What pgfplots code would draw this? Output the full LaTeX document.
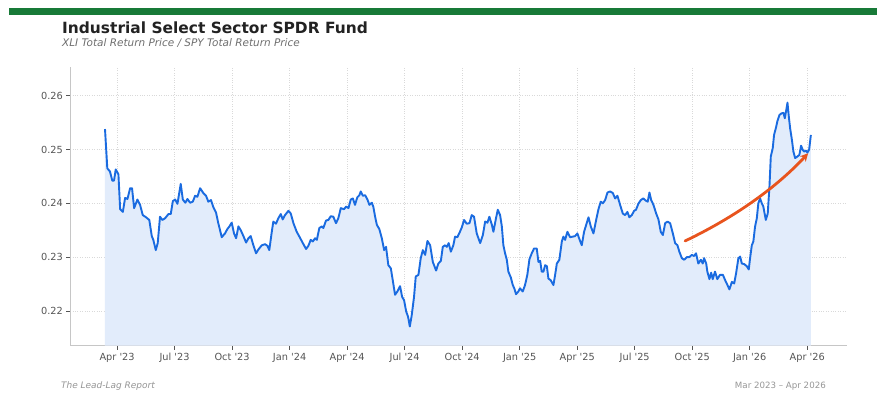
\documentclass[border=0pt]{standalone}
\usepackage{pgfplots}
\pgfplotsset{compat=1.18}
\usepackage{pgfplotstable}
\usetikzlibrary{arrows.meta}
\usepackage{fontspec}
\setmainfont{DejaVu Sans}
\definecolor{barGreen}{RGB}{24,122,56}
\definecolor{lineBlue}{RGB}{26,107,224}
\definecolor{fillBlue}{RGB}{226,236,251}
\definecolor{arrowOrange}{RGB}{232,84,30}
\definecolor{tickGray}{RGB}{85,85,85}
\definecolor{footGray}{RGB}{150,150,150}
\definecolor{titleGray}{RGB}{34,34,34}
\definecolor{subGray}{RGB}{110,110,110}

\pgfplotstableread{
m v
2.37 0.2538
2.49 0.2465
2.63 0.2459
2.75 0.2442
2.84 0.2442
2.93 0.2463
3.07 0.2454
3.16 0.2389
3.30 0.2384
3.42 0.2410
3.54 0.2408
3.68 0.2428
3.78 0.2428
3.89 0.2391
4.06 0.2407
4.20 0.2397
4.34 0.2378
4.51 0.2374
4.68 0.2369
4.81 0.2339
4.89 0.2332
5.02 0.2313
5.12 0.2326
5.24 0.2375
5.36 0.2369
5.50 0.2372
5.68 0.2380
5.80 0.2380
5.91 0.2404
6.03 0.2407
6.15 0.2399
6.32 0.2436
6.43 0.2407
6.56 0.2401
6.67 0.2408
6.81 0.2401
6.95 0.2403
7.07 0.2414
7.19 0.2412
7.33 0.2428
7.50 0.2419
7.64 0.2414
7.76 0.2403
7.90 0.2406
8.02 0.2393
8.16 0.2383
8.28 0.2363
8.46 0.2337
8.63 0.2344
8.75 0.2352
8.86 0.2357
8.98 0.2364
9.10 0.2344
9.21 0.2335
9.33 0.2357
9.45 0.2350
9.59 0.2339
9.73 0.2327
9.85 0.2335
9.97 0.2339
10.11 0.2322
10.25 0.2307
10.37 0.2314
10.55 0.2322
10.72 0.2324
10.84 0.2321
10.94 0.2313
11.07 0.2347
11.15 0.2366
11.29 0.2362
11.41 0.2372
11.54 0.2380
11.64 0.2370
11.76 0.2378
11.94 0.2386
12.06 0.2381
12.20 0.2363
12.37 0.2347
12.51 0.2338
12.63 0.2330
12.75 0.2322
12.86 0.2315
12.98 0.2321
13.10 0.2332
13.21 0.2329
13.33 0.2335
13.42 0.2332
13.55 0.2354
13.68 0.2357
13.76 0.2354
13.90 0.2368
14.02 0.2369
14.15 0.2376
14.28 0.2375
14.42 0.2363
14.54 0.2372
14.67 0.2391
14.84 0.2389
14.95 0.2394
15.07 0.2391
15.19 0.2407
15.30 0.2409
15.41 0.2397
15.53 0.2411
15.64 0.2415
15.71 0.2422
15.82 0.2414
15.94 0.2415
16.06 0.2407
16.16 0.2397
16.29 0.2401
16.37 0.2393
16.46 0.2375
16.55 0.2360
16.68 0.2352
16.81 0.2335
16.93 0.2313
17.03 0.2319
17.15 0.2285
17.28 0.2279
17.38 0.2257
17.50 0.2230
17.62 0.2236
17.76 0.2246
17.87 0.2226
17.97 0.2220
18.08 0.2199
18.18 0.2189
18.27 0.2171
18.37 0.2192
18.49 0.2226
18.58 0.2264
18.72 0.2267
18.84 0.2298
18.95 0.2313
19.07 0.2304
19.19 0.2330
19.33 0.2322
19.47 0.2291
19.64 0.2275
19.76 0.2288
19.89 0.2293
19.99 0.2319
20.11 0.2322
20.20 0.2319
20.30 0.2326
20.41 0.2310
20.54 0.2322
20.63 0.2338
20.75 0.2337
20.86 0.2345
20.98 0.2355
21.10 0.2369
21.24 0.2362
21.38 0.2363
21.50 0.2378
21.62 0.2375
21.76 0.2344
21.94 0.2326
22.08 0.2341
22.20 0.2366
22.32 0.2364
22.42 0.2375
22.55 0.2360
22.63 0.2347
22.77 0.2373
22.86 0.2388
22.98 0.2378
23.07 0.2357
23.15 0.2322
23.24 0.2307
23.33 0.2295
23.41 0.2273
23.54 0.2262
23.64 0.2248
23.72 0.2242
23.81 0.2231
23.93 0.2236
24.02 0.2242
24.16 0.2236
24.28 0.2248
24.40 0.2267
24.51 0.2296
24.63 0.2307
24.75 0.2316
24.89 0.2316
24.98 0.2291
25.07 0.2293
25.15 0.2273
25.24 0.2273
25.33 0.2285
25.42 0.2283
25.50 0.2260
25.62 0.2257
25.76 0.2248
25.85 0.2267
25.94 0.2288
26.07 0.2295
26.20 0.2329
26.28 0.2338
26.37 0.2332
26.49 0.2347
26.63 0.2337
26.77 0.2338
26.89 0.2339
27.01 0.2344
27.12 0.2333
27.24 0.2322
27.36 0.2347
27.59 0.2374
27.71 0.2357
27.85 0.2344
27.99 0.2369
28.11 0.2389
28.23 0.2403
28.34 0.2400
28.46 0.2406
28.58 0.2420
28.72 0.2422
28.86 0.2419
28.98 0.2409
29.10 0.2414
29.24 0.2397
29.38 0.2381
29.50 0.2378
29.62 0.2384
29.72 0.2374
29.85 0.2378
29.97 0.2386
30.07 0.2388
30.19 0.2399
30.32 0.2406
30.45 0.2409
30.58 0.2405
30.68 0.2403
30.77 0.2420
30.86 0.2406
30.98 0.2397
31.12 0.2381
31.24 0.2370
31.36 0.2347
31.47 0.2341
31.59 0.2363
31.71 0.2366
31.85 0.2363
31.99 0.2344
32.11 0.2326
32.23 0.2322
32.33 0.2310
32.46 0.2298
32.58 0.2295
32.72 0.2300
32.85 0.2300
32.98 0.2304
33.10 0.2302
33.20 0.2307
33.32 0.2288
33.45 0.2295
33.55 0.2288
33.62 0.2298
33.73 0.2288
33.79 0.2273
33.90 0.2259
33.99 0.2271
34.07 0.2259
34.19 0.2273
34.31 0.2259
34.45 0.2267
34.60 0.2267
34.72 0.2257
34.84 0.2248
34.94 0.2240
35.07 0.2254
35.19 0.2251
35.29 0.2270
35.41 0.2298
35.50 0.2301
35.59 0.2288
35.71 0.2287
35.85 0.2283
35.95 0.2277
36.02 0.2298
36.11 0.2322
36.19 0.2329
36.28 0.2357
36.37 0.2372
36.45 0.2400
36.54 0.2409
36.63 0.2400
36.71 0.2394
36.84 0.2369
36.94 0.2381
37.03 0.2431
37.10 0.2487
37.20 0.2502
37.27 0.2527
37.38 0.2542
37.44 0.2552
37.55 0.2564
37.65 0.2567
37.76 0.2568
37.83 0.2558
37.90 0.2572
37.97 0.2587
38.04 0.2561
38.11 0.2539
38.20 0.2518
38.28 0.2496
38.37 0.2484
38.49 0.2487
38.59 0.2490
38.68 0.2507
38.77 0.2499
38.85 0.2496
38.94 0.2498
39.01 0.2494
39.10 0.2500
39.19 0.2527
}\ratio

\begin{document}
\begin{tikzpicture}[x=1bp,y=1bp]
\path[use as bounding box, fill=white] (0,0) rectangle (885,399);
\fill[barGreen] (9,384) rectangle (877,391);
\node[anchor=base west, inner sep=0pt, font=\fontsize{15.5}{18}\selectfont\bfseries, text=titleGray] at (62,366) {Industrial Select Sector SPDR Fund};
\node[anchor=base west, inner sep=0pt, font=\fontsize{10.5}{13}\selectfont\itshape, text=subGray] at (62,352.5) {XLI Total Return Price / SPY Total Return Price};
\node[anchor=base west, inner sep=0pt, font=\fontsize{9}{11}\selectfont\itshape, text=footGray] at (61,11) {The Lead-Lag Report};
\node[anchor=base east, inner sep=0pt, font=\fontsize{8.7}{11}\selectfont, text=footGray] at (826,11) {Mar 2023 – Apr 2026};

\begin{axis}[
  at={(70.3bp,53.3bp)}, anchor=south west,
  scale only axis, width=776.4bp, height=278.7bp,
  xmin=0.56, xmax=41.06, ymin=0.21353, ymax=0.26533,
  axis x line*=bottom, axis y line*=left,
  axis line style={draw=gray!45, line width=0.8pt},
  xtick={3,6,...,39},
  xticklabels={Apr \textquotesingle23, Jul \textquotesingle23, Oct \textquotesingle23, Jan \textquotesingle24, Apr \textquotesingle24, Jul \textquotesingle24, Oct \textquotesingle24, Jan \textquotesingle25, Apr \textquotesingle25, Jul \textquotesingle25, Oct \textquotesingle25, Jan \textquotesingle26, Apr \textquotesingle26},
  ytick={0.22,0.23,0.24,0.25,0.26},
  y tick label style={/pgf/number format/.cd, fixed, fixed zerofill, precision=2, assume math mode=true},
  tick label style={font=\fontsize{9.8}{11}\selectfont, text=tickGray},
  tick align=outside, major tick length=4bp,
  tick style={draw=tickGray, line width=0.6pt},
  grid=major, grid style={dotted, draw=gray!30, line width=0.5pt},
  xtick pos=bottom, ytick pos=left,
]
\addplot[draw=none, fill=fillBlue] table[x=m, y=v] {\ratio} \closedcycle;
\addplot[lineBlue, line width=1.9bp, line join=round] table[x=m, y=v] {\ratio};
\draw[arrowOrange, line width=2.8bp, line cap=round, -{Stealth[length=8bp, width=8bp]}]
  (axis cs:32.63,0.2330) .. controls (axis cs:35.24,0.23745) and (axis cs:37.38,0.2429) .. (axis cs:39.05,0.2493);
\end{axis}
\end{tikzpicture}
\end{document}
